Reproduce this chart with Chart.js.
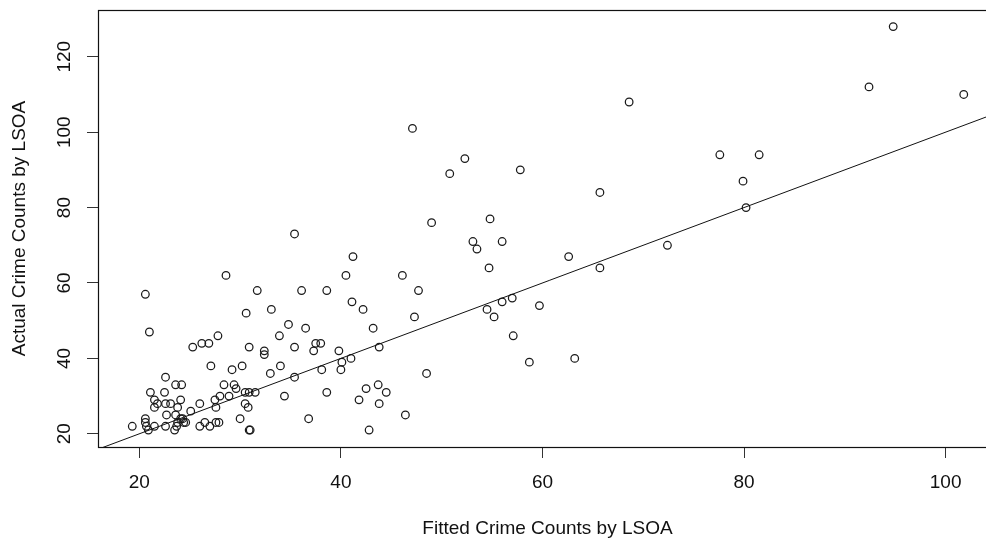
<!DOCTYPE html>
<html>
<head>
<meta charset="utf-8">
<script src="https://cdn.jsdelivr.net/npm/chart.js@4.4.1/dist/chart.umd.min.js"></script>
<style>
  html, body { margin: 0; padding: 0; background: #fff; overflow: hidden; }
  #wrap { width: 1010px; height: 543px; }
</style>
</head>
<body>
<div id="wrap"><canvas id="c" width="1010" height="543"></canvas></div>
<script>
// Fitted vs actual crime counts per LSOA
const fittedCounts = [
  94.8, 92.4, 101.8, 68.6, 77.6, 81.5, 79.9, 80.2, 72.4, 65.7,
  57.8, 47.1, 52.3, 50.8, 49.0, 54.8, 53.1, 53.5, 56.0, 54.7,
  62.6, 65.7, 56.0, 57.0, 59.7, 57.1, 58.7, 63.2, 54.5, 55.2,
  41.2, 40.5, 46.1, 47.7, 38.6, 41.1, 42.2, 47.3, 43.2, 43.8,
  39.8, 40.1, 41.0, 40.0, 48.5, 42.5, 43.7, 44.5, 41.8, 43.8,
  46.4, 42.8, 35.4, 28.6, 31.7, 36.1, 20.6, 30.6, 33.1, 34.8,
  36.5, 33.9, 30.9, 32.4, 32.4, 35.4, 37.5, 38.0, 37.3, 38.1,
  38.6, 36.8, 34.4, 35.4, 34.0, 33.0, 30.2, 29.2, 27.1, 21.0,
  25.3, 26.2, 26.9, 27.8, 22.6, 23.6, 24.2, 21.1, 22.5, 21.5,
  21.8, 21.5, 22.6, 23.1, 24.1, 23.8, 22.7, 23.6, 24.1, 24.3,
  23.8, 24.4, 23.5, 23.7, 24.6, 25.1, 26.0, 26.0, 26.5, 27.0,
  27.6, 27.9, 27.5, 28.0, 27.6, 28.4, 29.4, 29.6, 28.9, 30.5,
  30.9, 31.5, 30.5, 30.8, 30.0, 30.9, 31.0, 19.3, 20.6, 20.6,
  20.7, 20.9, 21.5, 22.6
];
const actualCounts = [
  128, 112, 110, 108, 94, 94, 87, 80, 70, 84,
  90, 101, 93, 89, 76, 77, 71, 69, 71, 64,
  67, 64, 55, 56, 54, 46, 39, 40, 53, 51,
  67, 62, 62, 58, 58, 55, 53, 51, 48, 43,
  42, 39, 40, 37, 36, 32, 33, 31, 29, 28,
  25, 21, 73, 62, 58, 58, 57, 52, 53, 49,
  48, 46, 43, 42, 41, 43, 44, 44, 42, 37,
  31, 24, 30, 35, 38, 36, 38, 37, 38, 47,
  43, 44, 44, 46, 35, 33, 33, 31, 31, 29,
  28, 27, 28, 28, 29, 27, 25, 25, 24, 24,
  23, 23, 21, 22, 23, 26, 28, 22, 23, 22,
  23, 23, 29, 30, 27, 33, 33, 32, 30, 31,
  31, 31, 28, 27, 24, 21, 21, 22, 24, 23,
  22, 21, 22, 22
];
const xTickValues = [20, 40, 60, 80, 100];
const yTickValues = [20, 40, 60, 80, 100, 120];
const xTitle = 'Fitted Crime Counts by LSOA';
const yTitle = 'Actual Crime Counts by LSOA';

// reference line actual = intercept + slope * fitted
const refIntercept = 0;
const refSlope = 1;

// axis ranges (data range widened by 4% on each side)
const xRange = [15.9, 105.1];
const yRange = [16.5, 132.4];

const points = fittedCounts.map((x, i) => ({ x: x, y: actualCounts[i] }));
const refLine = xRange.map(x => ({ x: x, y: refIntercept + refSlope * x }));

const FONT = '"Liberation Sans", Arial, sans-serif';

// frame around the plotting region
const boxPlugin = {
  id: 'plotBox',
  afterDatasetsDraw(chart) {
    const a = chart.chartArea;
    const ctx = chart.ctx;
    ctx.save();
    ctx.strokeStyle = '#111';
    ctx.lineWidth = 1.2;
    ctx.strokeRect(Math.round(a.left) + 0.5, Math.round(a.top) + 0.5,
                   Math.round(a.right - a.left), Math.round(a.bottom - a.top));
    ctx.restore();
  }
};

new Chart(document.getElementById('c'), {
  type: 'scatter',
  data: {
    datasets: [
      {
        type: 'line',
        data: refLine,
        borderColor: '#111',
        borderWidth: 1,
        pointRadius: 0,
        fill: false,
        tension: 0
      },
      {
        data: points,
        pointStyle: 'circle',
        pointRadius: 3.8,
        pointBorderWidth: 1.25,
        pointBorderColor: '#1a1a1a',
        pointBackgroundColor: 'rgba(0,0,0,0)',
        pointHoverRadius: 3.8
      }
    ]
  },
  options: {
    responsive: false,
    animation: false,
    devicePixelRatio: 1,
    layout: { padding: { top: 10, right: 13, left: 0, bottom: 0 } },
    plugins: { legend: { display: false }, tooltip: { enabled: false } },
    scales: {
      x: {
        type: 'linear',
        min: xRange[0],
        max: xRange[1],
        afterBuildTicks(scale) { scale.ticks = xTickValues.map(v => ({ value: v })); },
        afterFit(scale) { scale.height = 96; scale.paddingLeft = 0; scale.paddingRight = 0; },
        grid: { drawOnChartArea: false, drawTicks: true, tickLength: 11, color: '#333', lineWidth: 1 },
        border: { display: false },
        ticks: {
          color: '#111',
          padding: 13,
          maxRotation: 0,
          font: { family: FONT, size: 19 }
        },
        title: {
          display: true,
          text: xTitle,
          color: '#111',
          padding: { top: 0, bottom: 3 },
          font: { family: FONT, size: 19 }
        }
      },
      y: {
        type: 'linear',
        min: yRange[0],
        max: yRange[1],
        afterBuildTicks(scale) { scale.ticks = yTickValues.map(v => ({ value: v })); },
        afterFit(scale) { scale.width = 98; scale.paddingTop = 0; scale.paddingBottom = 0; },
        grid: { drawOnChartArea: false, drawTicks: true, tickLength: 11, color: '#333', lineWidth: 1 },
        border: { display: false },
        ticks: {
          color: '#111',
          padding: 6,
          minRotation: 90,
          maxRotation: 90,
          crossAlign: 'center',
          font: { family: FONT, size: 19 }
        },
        title: {
          display: true,
          text: yTitle,
          color: '#111',
          padding: { top: 8, bottom: 0 },
          font: { family: FONT, size: 19 }
        }
      }
    }
  },
  plugins: [boxPlugin]
});
</script>
</body>
</html>
